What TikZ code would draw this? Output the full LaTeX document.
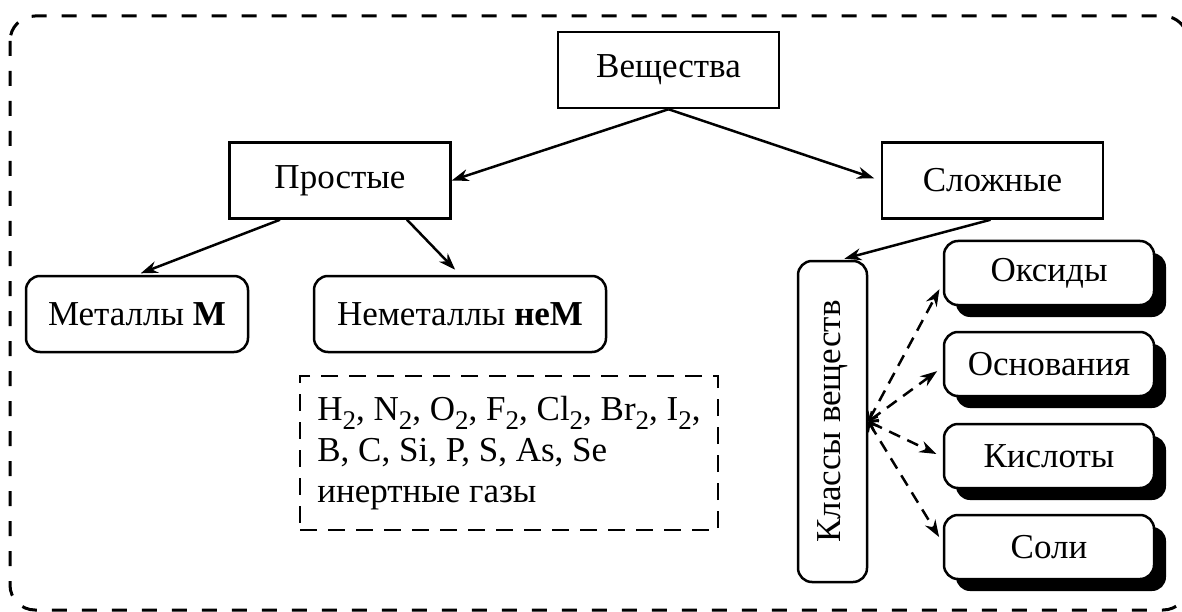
\documentclass[tikz,border=0pt]{standalone}
\usepackage{fontspec}
\setmainfont{Liberation Serif}
\usetikzlibrary{arrows.meta,calc,shadows}
\newcommand\subtwo{\raisebox{-9pt}{\fontsize{27}{27}\selectfont 2}}
\begin{document}
\begin{tikzpicture}[x=1pt,y=-1pt,
  every node/.style={font=\fontsize{35}{37}\selectfont},
  tbox/.style={draw, line width=2.5pt, minimum width=221pt, minimum height=76pt, inner sep=0pt, fill=white},
  rbox/.style={draw, line width=2.5pt, rounded corners=14pt, minimum height=76pt, inner sep=0pt, fill=white},
  cbox/.style={draw, line width=2.5pt, rounded corners=14pt, fill=white, minimum width=210pt, minimum height=64pt, inner sep=0pt,
    drop shadow={shadow xshift=12pt, shadow yshift=-12pt, opacity=1, fill=black}},
  arr/.style={line width=2.5pt, -{Stealth[length=17pt,width=12pt]}},
  darr/.style={line width=2.5pt, dash pattern=on 12pt off 8pt, {Straight Barb[length=7pt,width=12pt]}-{Stealth[length=17pt,width=12pt]}}
]
\path[use as bounding box] (0,0) rectangle (1182,612);
\clip (0,0) rectangle (1182,612);
\draw[line width=3pt, dash pattern=on 15pt off 15pt, rounded corners=25pt] (10,16) rectangle (1188,610);

\node[tbox] (vesh) at (668.5,70) {Вещества};
\node[tbox] (prost) at (340,180.5) {Простые};
\node[tbox] (slozh) at (992.5,180.5) {Сложные};

\node[rbox, minimum width=222pt] (met) at (137,314) {Металлы \textbf{М}};
\node[rbox, minimum width=292pt] (nemet) at (460,314) {Неметаллы \textbf{неМ}};

\node[draw, line width=2.5pt, dash pattern=on 17pt off 11pt, minimum width=418pt, minimum height=154pt, align=left, inner sep=0pt,
      font=\fontsize{35}{41}\selectfont] (list) at (509,453)
  {H\subtwo, N\subtwo, O\subtwo, F\subtwo, Cl\subtwo, Br\subtwo, I\subtwo,\\
   B, C, Si, P, S, As, Se\\
   инертные газы};

\node[draw, line width=2.5pt, rounded corners=14pt, minimum width=69pt, minimum height=321pt, inner sep=0pt] (kl) at (832.5,421.5) {};
\node[rotate=90] (kltext) at (kl) {Классы веществ};

\node[cbox] (oks) at (1049,273) {Оксиды};
\node[cbox] (osn) at (1049,364) {Основания};
\node[cbox] (kis) at (1049,456) {Кислоты};
\node[cbox] (sol) at (1049,547) {Соли};

\draw[arr] (vesh.south) -- (prost.east);
\draw[arr, shorten >=7pt] (vesh.south) -- (slozh.west);
\draw[arr, shorten >=4pt] ($(prost.south)+(-60,0)$) -- (met.north);
\draw[arr, shorten >=7pt] ($(prost.south)+(67,0)$) -- (nemet.north);
\draw[arr, shorten >=4pt] ($(slozh.south)+(-2,0)$) -- ($(kl.north)+(8,0)$);

\draw[darr, shorten >=7pt] (kl.east) -- ($(oks.west)+(0,10)$);
\draw[darr, shorten >=7pt] (kl.east) -- ($(osn.west)+(0,3)$);
\draw[darr, shorten >=7pt] (kl.east) -- ($(kis.west)+(0,1)$);
\draw[darr, shorten >=7pt] (kl.east) -- ($(sol.west)+(0,-4)$);
\end{tikzpicture}
\end{document}
